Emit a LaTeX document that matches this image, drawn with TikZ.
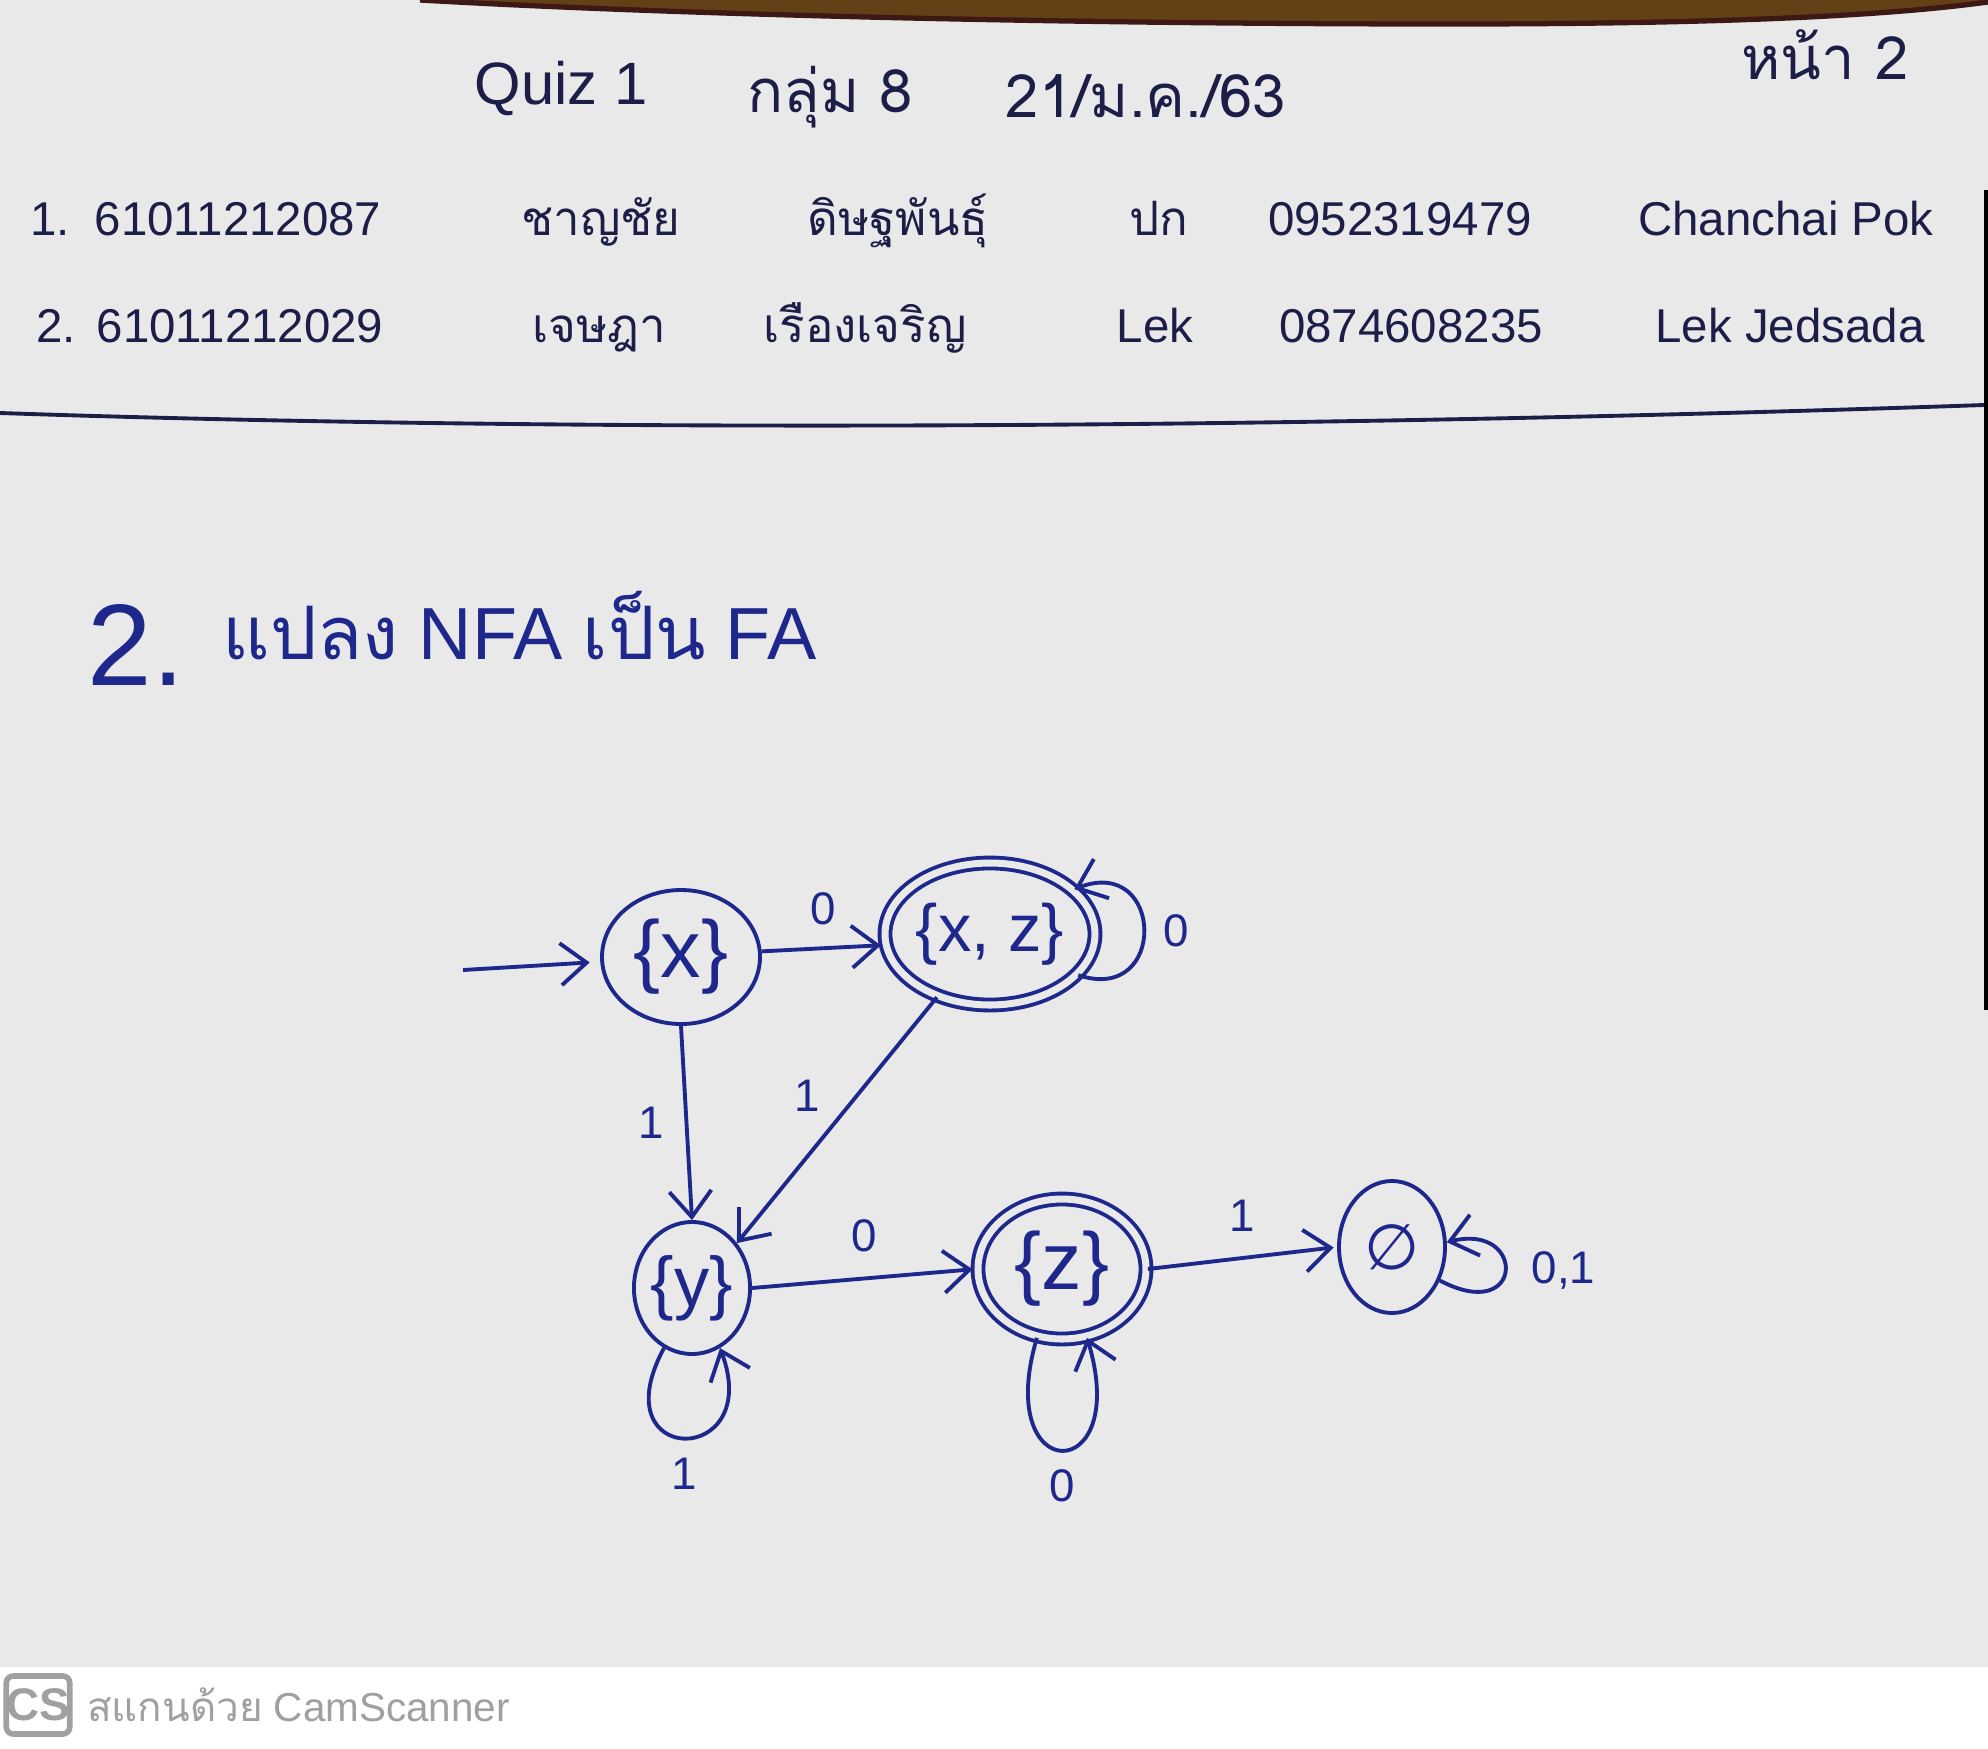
\documentclass[tikz,border=0pt]{standalone}
\usepackage{fontspec}
\setmainfont{Liberation Sans}
\newfontfamily\thaifont[Script=Thai]{Loma}
\newfontfamily\symfont{DejaVu Sans}
\usetikzlibrary{shapes.geometric, arrows.meta, positioning}

\definecolor{paper}{RGB}{233,233,233}
\definecolor{ink}{RGB}{28,30,72}
\definecolor{pen}{RGB}{30,40,140}
\definecolor{scanmark}{RGB}{160,160,160}
\definecolor{deskbrown}{RGB}{100,64,22}
\definecolor{deskdark}{RGB}{60,25,20}

\begin{document}
\begin{tikzpicture}[
        header/.style={ink, anchor=base, inner sep=0pt, font=\fontsize{17}{19}\selectfont},
        entry/.style={ink, anchor=base, inner sep=0pt, font=\fontsize{13.5}{15}\selectfont},
        state/.style={ellipse, draw=pen, line width=1.1pt, inner sep=0pt, text=pen, font=\fontsize{23}{25}\selectfont},
        accept/.style={state, double=paper, double distance=2pt},
        arrow/.style={-{Straight Barb[length=2.6mm,width=4.2mm]}, pen, line width=1.1pt},
        sym/.style={pen, inner sep=2pt, font=\fontsize{13}{15}\selectfont}
    ]

        % page and margins
        \useasboundingbox (0,0) rectangle (19.88,-17.49);
        \fill[paper] (0,0) rectangle (19.88,-17.49);
        \fill[deskbrown] (4.2,0) -- (19.88,0) -- (19.88,-0.02) .. controls (19.0,-0.14) and (17.5,-0.24) .. (14.5,-0.24) .. controls (11,-0.24) and (7,-0.16) .. (4.2,0) -- cycle;
        \draw[deskdark, line width=1.5pt] (4.2,0) .. controls (7,-0.16) and (11,-0.24) .. (14.5,-0.24) .. controls (17.5,-0.24) and (19.0,-0.14) .. (19.88,-0.02);
        \draw[black, line width=1.2pt] (19.86,-1.9) -- (19.86,-10.1);

        % header
        \node[header] (quiz) at (5.61,-1.04) {Quiz 1};
        \node[header] (group) at (8.30,-1.12) {\thaifont กลุ่ม 8};
        \node[header] (date) at (11.46,-1.17) {\thaifont 21/ม.ค./63};
        \node[header] (page) at (18.25,-0.79) {\thaifont หน้า 2};

        % member 1
        \node[entry] (noA) at (0.50,-2.35) {1.};
        \node[entry] (idA) at (2.38,-2.35) {61011212087};
        \node[entry] (firstA) at (6.01,-2.35) {\thaifont ชาญชัย};
        \node[entry] (lastA) at (8.98,-2.35) {\thaifont ดิษฐพันธุ์};
        \node[entry] (nickA) at (11.59,-2.35) {\thaifont ปก};
        \node[entry] (telA) at (14.00,-2.35) {0952319479};
        \node[entry] (nameA) at (17.86,-2.35) {Chanchai Pok};

        % member 2
        \node[entry] (noB) at (0.56,-3.42) {2.};
        \node[entry] (idB) at (2.40,-3.42) {61011212029};
        \node[entry] (firstB) at (5.99,-3.42) {\thaifont เจษฎา};
        \node[entry] (lastB) at (8.65,-3.42) {\thaifont เรืองเจริญ};
        \node[entry] (nickB) at (11.55,-3.42) {Lek};
        \node[entry] (telB) at (14.11,-3.42) {0874608235};
        \node[entry] (nameB) at (17.90,-3.42) {Lek Jedsada};

        \draw[ink, line width=1.1pt] (0,-4.13) .. controls (5,-4.30) and (12,-4.32) .. (19.84,-4.05);

        % question
        \node[pen, anchor=base, inner sep=0pt, font=\fontsize{33}{35}\selectfont] (qno) at (1.36,-6.85) {2.};
        \node[pen, anchor=base west, inner sep=0pt, font=\fontsize{21}{23}\selectfont] (qtext) at (2.22,-6.59) {{\thaifont แปลง} NFA {\thaifont เป็น} FA};

        % states
        \node[state, minimum width=1.58cm, minimum height=1.34cm] (x) at (6.81,-9.57) {\{x\}};
        \node[accept, minimum width=1.94cm, minimum height=1.42cm, font=\fontsize{19}{21}\selectfont] (xz) at (9.90,-9.34) {\{x, z\}};
        \node[state, minimum width=1.06cm, minimum height=1.32cm, font=\fontsize{20}{22}\selectfont] (y) at (6.92,-12.88) {\{y\}};
        \node[accept, minimum width=1.68cm, minimum height=1.40cm] (z) at (10.62,-12.69) {\{z\}};
        \node[state, minimum width=1.06cm, minimum height=1.32cm, font=\fontsize{18}{20}\selectfont] (empty) at (13.92,-12.47) {{\symfont ∅}};

        % transitions
        \coordinate (start) at (4.63,-9.70);
        \draw[arrow, shorten >=3pt] (start) -- (x);
        \draw[arrow, shorten >=1pt] (x.4) -- node[sym, above=4pt] {0} (xz.186);
        \draw[arrow] (xz.-25) .. controls +(0.9,-0.3) and +(0.9,0.35) .. node[sym, right=3pt] {0} (xz.28);
        \draw[arrow] (x.south) -- node[sym, left=4pt] {1} (y.north);
        \draw[arrow] (xz.-130) -- node[sym, pos=0.4, left=8pt] {1} (y.45);
        \draw[arrow] (y.-115) .. controls +(-0.65,-1.2) and +(0.45,-1.2) .. node[sym, below=3pt] {1} (y.-65);
        \draw[arrow, shorten >=1pt] (y.east) -- node[sym, above=5pt] {0} (z.west);
        \draw[arrow] (z.-110) .. controls +(-0.45,-1.5) and +(0.45,-1.5) .. node[sym, below=3pt] {0} (z.-70);
        \draw[arrow, shorten >=1pt] (z.east) -- node[sym, above=5pt] {1} (empty.west);
        \draw[arrow] (empty.-35) .. controls +(0.85,-0.45) and +(0.8,0.2) .. node[sym, right=5pt] {0,1} (empty.5);

        % scanner footer
        \fill[white] (0,-16.67) rectangle (19.88,-17.49);
        \node[draw=scanmark, line width=1.6pt, rounded corners=2pt, minimum width=0.56cm, minimum height=0.58cm, inner sep=0pt, text=scanmark, font=\bfseries\fontsize{13}{13}\selectfont] (cs) at (0.38,-17.05) {CS};
        \node[scanmark, inner sep=0pt, font=\fontsize{11.5}{14}\selectfont, right=0.14cm of cs.east, anchor=west] (scan) {{\thaifont สแกนด้วย} CamScanner};

    \end{tikzpicture}
\end{document}
